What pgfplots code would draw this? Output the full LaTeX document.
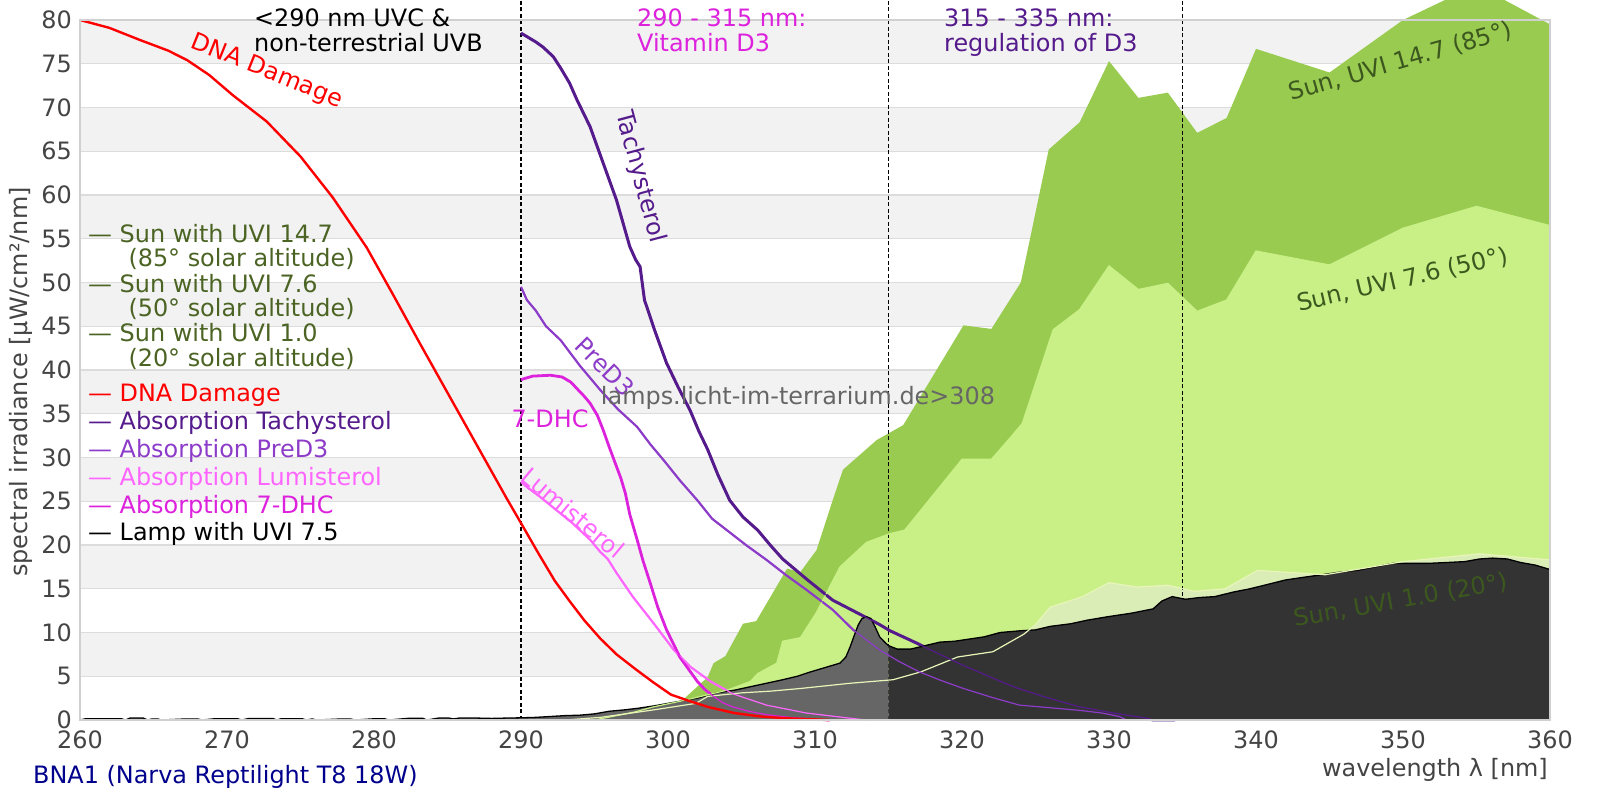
\documentclass[border=0pt]{standalone}
\usepackage{fontspec}
\setmainfont{DejaVu Sans}
\usepackage{pgfplots}
\pgfplotsset{compat=1.18}
\usepackage{pgfplotstable}

\definecolor{gA}{RGB}{154,203,81}
\definecolor{gB}{RGB}{200,240,134}
\definecolor{gC}{RGB}{219,237,182}
\definecolor{gCline}{RGB}{232,245,184}
\definecolor{lampA}{RGB}{102,102,102}
\definecolor{lampB}{RGB}{51,51,51}
\definecolor{band}{RGB}{242,242,242}
\definecolor{gridc}{RGB}{220,220,220}
\definecolor{spinec}{RGB}{208,208,208}
\definecolor{tickc}{RGB}{68,68,68}
\definecolor{tach}{RGB}{85,26,139}
\definecolor{pred}{RGB}{140,60,200}
\definecolor{lumi}{RGB}{255,102,255}
\definecolor{dhc}{RGB}{221,34,221}
\definecolor{olivec}{RGB}{75,100,35}
\definecolor{sunlab}{RGB}{60,88,30}
\definecolor{navyc}{RGB}{0,0,140}
\definecolor{wm}{RGB}{102,102,102}

\newcommand\fs{\fontsize{24}{28}\selectfont}

\pgfplotstableread{
x y
298.5 0
299 1.0
299.6 1.3
300.6 1.6
301.4 2.9
302.7 4.9
303.1 6.5
303.9 7.3
305.1 11.0
306.0 11.3
308.1 17.3
309.0 16.9
309.7 18.5
310.1 19.4
311.2 25.1
311.9 28.6
314.2 32.0
316.0 33.7
320.1 45.1
322.0 44.7
324.0 50.0
325.9 65.2
328.0 68.3
330.0 75.3
332.0 71.1
334.0 71.7
336.0 67.1
338.0 68.8
340.0 76.7
345.0 74.0
350.0 80.0
355.0 84.0
360.0 79.5
}\tsunA

\pgfplotstableread{
x y
295 0
297.7 0.9
299 1.5
301 2.2
303 3.0
304 3.4
305.6 4.4
306.1 5.3
307.4 6.5
307.8 9.0
309 9.4
310.1 12.3
311.7 17.5
313.5 20.3
315.1 21.3
316.1 21.7
320 29.8
322 29.8
323.3 32.3
324.1 33.9
326.2 44.6
328 46.9
330 51.9
332 49.2
334 49.9
336 46.7
338 48.0
340 53.6
345 52.0
350 56.2
355 58.7
360 56.5
}\tsunB

\pgfplotstableread{
x y
293 0
295.4 0.3
298.8 1.1
301.9 1.9
302.7 2.7
305 3.1
307 3.3
309 3.6
312.4 4.2
315.3 4.6
317.2 5.5
319.7 7.2
322.1 7.8
324.2 9.8
325 10.9
326 12.9
328.2 14.1
330 15.7
331.9 15.2
334 15.4
335.8 14.7
337.9 15.0
340.1 17.1
344.7 16.6
350 18.1
355.2 19.0
360 18.3
}\tsunC

\pgfplotstableread{
x y
260 80
262 79.1
264.1 77.7
266 76.5
267.3 75.4
268.8 73.7
270.4 71.4
272.7 68.4
275 64.4
277.2 59.7
279.5 54
281.3 48.6
283.1 43.1
285 37.4
287 31.4
289 25.4
290 22.5
291.2 19.0
292.3 15.9
293.3 13.6
294.3 11.4
295.4 9.3
296.5 7.5
297.8 5.8
299 4.3
300.2 2.9
301.4 2.2
302.7 1.5
304.5 0.8
306.3 0.4
308 0.2
309.6 0.1
311 0
}\tdna

\pgfplotstableread{
x y
290 78.5
291 77.5
291.5 76.9
292.2 75.8
292.7 74.5
293.3 72.8
293.8 70.9
294.7 67.8
295.6 63.6
296.5 59.4
297.4 54.1
297.8 52.6
298.1 51.8
298.4 48.0
299.1 44.5
299.9 40.8
300.7 38.0
301.5 35.4
302.1 33.0
302.7 30.9
303.4 28.0
304.2 25.1
305.1 23.2
306.1 21.7
307 19.9
307.8 18.4
309.5 16.0
311.2 13.7
313.5 11.7
314.4 10.9
315.1 10.2
316.9 8.8
318.5 7.5
320 6.3
321.8 5.0
323.5 3.8
325.5 2.7
328 1.5
330.3 0.8
332.6 0.2
333 0
334.5 0
}\ttach

\pgfplotstableread{
x y
290 49.5
290.4 48.0
291 46.8
291.7 45.0
292.7 43.4
294 40.5
295.4 37.7
296.6 35.5
297.9 33.5
298.8 31.5
299.7 29.7
300.8 27.4
302 25.1
303 23.0
304 21.7
305.3 20.0
306.7 18.3
308 16.6
309.4 14.9
311.2 12.6
312.6 10.3
314.4 8.0
315.7 6.7
317.1 5.5
318.6 4.5
320.1 3.6
322 2.6
323.9 1.7
326 1.4
328 1.1
329.5 0.8
330.7 0.4
331.2 0
}\tpred

\pgfplotstableread{
x y
290 38.9
290.8 39.3
292 39.4
292.8 39.2
293.4 38.6
293.9 37.7
294.3 37.0
294.7 36.2
295.2 34.8
295.6 33.1
296 31.2
296.4 29.4
296.8 27.6
297.1 25.9
297.4 23.5
297.9 20.6
298.3 18.2
298.8 15.6
299.3 12.9
299.9 10.3
300.4 8.6
300.8 7.2
301.4 5.8
302 4.4
302.5 3.5
303.1 2.7
303.7 2.0
304.4 1.5
305.5 1.0
306.7 0.6
308 0.35
309 0.2
310.5 0.05
311 0
}\tdhc

\pgfplotstableread{
x y
290 27.2
290.5 26.5
291.3 25.5
292.4 24.0
293.5 22.5
294.7 20.6
295.4 19.2
295.9 18.4
296.5 16.8
297.6 14.1
299.0 11.1
300.4 8.0
301.5 6.1
302.9 4.4
304.4 3.0
306.7 1.7
309.4 0.8
312.4 0.2
313.5 0
}\tlumi

\pgfplotstableread{
x y
260 0
260.4 0.15
262.8 0.15
263.1 0
263.4 0.22
264.3 0.22
264.6 0
264.9 0.12
265.3 0.12
265.5 0
267.2 0.12
268 0.12
268.3 0
269.2 0.15
270.7 0.15
271 0
271.5 0.18
273.1 0.18
273.4 0
273.7 0.15
275.1 0.15
275.4 0
275.8 0.12
276.1 0
277.8 0.12
278.4 0.12
278.7 0
280.1 0.15
280.7 0.15
281 0
282.4 0.2
283.3 0.2
283.6 0
284.4 0.22
285.1 0.22
285.4 0.12
285.8 0.22
287 0.22
288 0.18
289 0.22
290 0.25
291 0.3
292 0.4
293 0.5
294 0.55
295 0.7
296 1.0
297 1.15
298 1.35
299 1.6
300 1.9
301 2.2
302 2.5
303.3 3.1
304.5 3.4
305.6 3.8
306.7 4.2
307.8 4.6
308.8 5.0
309.7 5.5
310.7 6.0
311.7 6.5
312.1 7.2
312.4 8.4
312.7 9.8
312.95 10.9
313.2 11.6
313.5 11.8
313.8 11.6
314.1 10.6
314.4 9.5
314.8 8.8
315 8.5
}\tlampA

\pgfplotstableread{
x y
315 8.5
315.6 8.1
316.5 8.1
317.5 8.5
318.5 8.9
319.5 9.0
320.3 9.2
321.5 9.5
322.6 10.0
324 10.2
325 10.3
326 10.7
327.4 11.0
328.5 11.4
329.9 11.8
331.5 12.2
333.0 12.7
333.6 13.6
334.3 14.1
335.2 13.8
336.2 14.0
337.2 14.1
338.4 14.6
339.6 15.0
340.8 15.5
342 16.0
343.2 16.3
344.5 16.6
345.7 16.9
346.9 17.1
348.1 17.5
349.3 17.9
350.5 17.9
351.7 17.9
353 18.0
354.2 18.1
355.2 18.4
356.1 18.5
357.1 18.4
358 18.0
359 17.7
360 17.2
}\tlampB

\begin{document}
\begin{tikzpicture}
\useasboundingbox (0,0) rectangle (1600bp,800bp);
\clip (0,0) rectangle (1600bp,800bp);
\begin{axis}[
  at={(80bp,80bp)}, anchor=south west,
  scale only axis, width=1470bp, height=700bp,
  xmin=260, xmax=360, ymin=0, ymax=80,
  clip=false,
  axis line style={draw=none},
  xtick={260,270,...,360}, ytick={0,5,...,80},
  major tick length=0pt,
  tick style={draw=none},
  /pgf/number format/assume math mode=true,
  scaled ticks=false,
  xticklabel style={anchor=north, inner sep=0pt, yshift=-10.5bp, font=\fs, text=tickc},
  yticklabel style={anchor=east, inner sep=0pt, xshift=-8bp, font=\fs, text=tickc},
]
\pgfplotsinvokeforeach{5,15,...,75}{
  \fill[band] (axis cs:260,#1) rectangle (axis cs:360,{#1+5});
}
\pgfplotsinvokeforeach{5,10,...,80}{
  \draw[gridc, line width=1.2bp] (axis cs:260,#1) -- (axis cs:360,#1);
}
% sun areas
\addplot[draw=none, fill=gA] table[x=x,y=y]{\tsunA} \closedcycle;
\addplot[draw=none, fill=gB] table[x=x,y=y]{\tsunB} \closedcycle;
\addplot[draw=none, fill=gC] table[x=x,y=y]{\tsunC} \closedcycle;
% region dividers
\addplot[black, line width=1.1bp, dash pattern=on 4bp off 2.5bp] coordinates {(290,0) (290,83)};
\addplot[black, line width=1.1bp, dash pattern=on 4bp off 2.5bp] coordinates {(315,0) (315,83)};
\addplot[black, line width=1.1bp, dash pattern=on 4bp off 2.5bp] coordinates {(335,0) (335,83)};
% thick curves
\addplot[tach, line width=3bp] table[x=x,y=y]{\ttach};
\addplot[pred, line width=2.2bp] table[x=x,y=y]{\tpred};
\addplot[lumi, line width=2.2bp] table[x=x,y=y]{\tlumi};
\addplot[dhc, line width=2.8bp] table[x=x,y=y]{\tdhc};
% lamp
\addplot[draw=none, fill=lampA] table[x=x,y=y]{\tlampA} \closedcycle;
\addplot[draw=none, fill=lampB] table[x=x,y=y]{\tlampB} \closedcycle;
\addplot[black, line width=1.3bp] table[x=x,y=y]{\tlampA};
\addplot[black, line width=1.3bp] table[x=x,y=y]{\tlampB};
% thin overlays
\addplot[gB, line width=1.2bp] table[x=x,y=y]{\tsunB};
\addplot[gCline, line width=1.2bp] table[x=x,y=y]{\tsunC};
\addplot[tach, line width=1.2bp] table[x=x,y=y]{\ttach};
\addplot[pred, line width=1.2bp] table[x=x,y=y]{\tpred};
\addplot[lumi, line width=1.2bp] table[x=x,y=y]{\tlumi};
\addplot[dhc, line width=1.2bp] table[x=x,y=y]{\tdhc};
\addplot[red, line width=2.4bp] table[x=x,y=y]{\tdna};
% spines
\draw[spinec, line width=1.3bp] (rel axis cs:0,0) rectangle (rel axis cs:1,1);
\end{axis}

% axis labels
\node[rotate=90, font=\fs, text=tickc, inner sep=0pt] at (21bp,418bp) {spectral irradiance [µW/cm²/nm]};
\node[anchor=base east, font=\fs, text=tickc, inner sep=0pt] at (1548bp,23.3bp) {wavelength λ [nm]};
\node[anchor=base west, font=\fs, text=navyc, inner sep=0pt] at (33bp,16.7bp) {BNA1 (Narva Reptilight T8 18W)};

% region annotations
\node[anchor=base west, font=\fs, text=black, inner sep=0pt] at (254bp,773.3bp) {<290 nm UVC \&};
\node[anchor=base west, font=\fs, text=black, inner sep=0pt] at (254bp,748.3bp) {non-terrestrial UVB};
\node[anchor=base west, font=\fs, text=dhc, inner sep=0pt] at (637bp,773.3bp) {290 - 315 nm:};
\node[anchor=base west, font=\fs, text=dhc, inner sep=0pt] at (637bp,748.3bp) {Vitamin D3};
\node[anchor=base west, font=\fs, text=tach, inner sep=0pt] at (944bp,773.3bp) {315 - 335 nm:};
\node[anchor=base west, font=\fs, text=tach, inner sep=0pt] at (944bp,748.3bp) {regulation of D3};

% legend
\node[anchor=base west, font=\fs, text=olivec, inner sep=0pt] at (88bp,557.3bp) {— Sun with UVI 14.7};
\node[anchor=base west, font=\fs, text=olivec, inner sep=0pt] at (128.3bp,533.3bp) {(85° solar altitude)};
\node[anchor=base west, font=\fs, text=olivec, inner sep=0pt] at (88bp,507.7bp) {— Sun with UVI 7.6};
\node[anchor=base west, font=\fs, text=olivec, inner sep=0pt] at (128.3bp,483.3bp) {(50° solar altitude)};
\node[anchor=base west, font=\fs, text=olivec, inner sep=0pt] at (88bp,458.3bp) {— Sun with UVI 1.0};
\node[anchor=base west, font=\fs, text=olivec, inner sep=0pt] at (128.3bp,433.3bp) {(20° solar altitude)};
\node[anchor=base west, font=\fs, text=red, inner sep=0pt] at (88bp,398.3bp) {— DNA Damage};
\node[anchor=base west, font=\fs, text=tach, inner sep=0pt] at (88bp,370.7bp) {— Absorption Tachysterol};
\node[anchor=base west, font=\fs, text=pred, inner sep=0pt] at (88bp,342.7bp) {— Absorption PreD3};
\node[anchor=base west, font=\fs, text=lumi, inner sep=0pt] at (88bp,314.3bp) {— Absorption Lumisterol};
\node[anchor=base west, font=\fs, text=dhc, inner sep=0pt] at (88bp,286.7bp) {— Absorption 7-DHC};
\node[anchor=base west, font=\fs, text=black, inner sep=0pt] at (88bp,259.3bp) {— Lamp with UVI 7.5};

% curve labels
\node[rotate=-22, font=\fs, text=red, inner sep=0pt] at (266.7bp,728.3bp) {DNA Damage};
\node[rotate=-75, font=\fs, text=tach, inner sep=0pt] at (640bp,623bp) {Tachysterol};
\node[rotate=-45, font=\fs, text=pred, inner sep=0pt] at (605bp,433.3bp) {PreD3};
\node[font=\fs, text=dhc, inner sep=0pt] at (550bp,381bp) {7-DHC};
\node[rotate=-40, font=\fs, text=lumi, inner sep=0pt] at (573bp,287bp) {Lumisterol};
\node[font=\fs, text=wm, inner sep=0pt] at (798bp,402bp) {lamps.licht-im-terrarium.de>308};
\node[rotate=16, font=\fs, text=sunlab, inner sep=0pt] at (1400.7bp,738.3bp) {Sun, UVI 14.7 (85°)};
\node[rotate=13, font=\fs, text=sunlab, inner sep=0pt] at (1402.5bp,520bp) {Sun, UVI 7.6 (50°)};
\node[rotate=10, font=\fs, text=sunlab, inner sep=0pt] at (1400.7bp,199.3bp) {Sun, UVI 1.0 (20°)};
\end{tikzpicture}
\end{document}
